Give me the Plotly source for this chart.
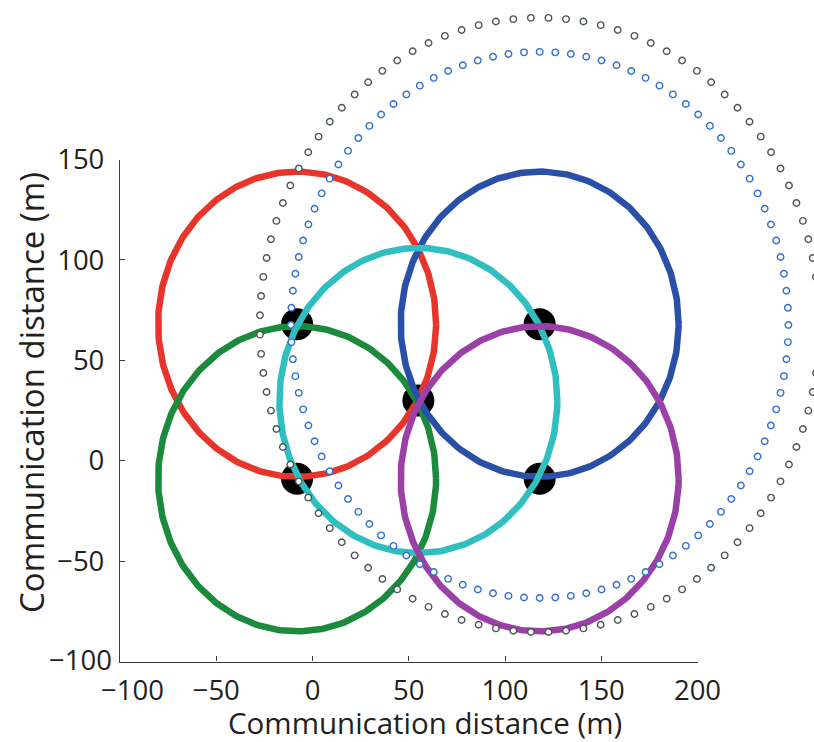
import numpy as np
import plotly.graph_objects as go

# Anchor nodes (m)
anchor_x = [-8, -8, 55, 118, 118]
anchor_y = [68, -9, 30, 68, -9]

# Communication ranges around each anchor (drawn in this order)
range_names = ["Anchor A", "Anchor B", "Anchor D", "Anchor C", "Anchor E"]
range_cx = [-8, -8, 118, 55, 118]
range_cy = [68, -9, 68, 30, -9]
range_r = [76, 76, 76, 76, 76]
range_colors = ["#e8352b", "#1b8a3c", "#2a4fa6", "#2fbfc0", "#9a40a6"]

# Extended ranges around anchor D
ring_names = ["Outer range", "Inner range"]
ring_cx = [118, 118]
ring_cy = [67.6, 67.6]
ring_r = [153, 136]
ring_colors = ["#4a5656", "#2f6fd0"]
ring_points = [100, 100]
ring_phase = [0.5, 0.0]

x_ticks = [-100, -50, 0, 50, 100, 150, 200]
y_ticks = [-100, -50, 0, 50, 100, 150]
x_range = [-100, 200]
y_range = [-100, 150]

X_SCALE = 0.95  # horizontal stretch of the drawn ranges
FONT = "Open Sans"
TEXT_COLOR = "#231f20"
TICK_SIZE = 27.5


def fmt(v):
    return f"\u2212{abs(v)}" if v < 0 else str(v)


W, H = 814, 742
# plot box in pixels
PX0, PX1 = 120.0, 697.5
PY0, PY1 = 159.5, 661.5   # top, bottom

# full-page overlay axes carrying the same data scale as the main axes
sx = (PX1 - PX0) / (x_range[1] - x_range[0])
sy = (PY1 - PY0) / (y_range[1] - y_range[0])
x_full = [x_range[0] - PX0 / sx, x_range[1] + (W - PX1) / sx]
y_full = [y_range[0] - (H - PY1) / sy, y_range[1] + PY0 / sy]

fig = go.Figure()

fig.add_trace(go.Scatter(
    x=anchor_x, y=anchor_y, mode="markers",
    marker=dict(color="black", size=32, line=dict(width=0)),
    showlegend=False, hoverinfo="skip"))

t = np.linspace(0, 2 * np.pi, 361)
for name, cx, cy, r, col in zip(range_names, range_cx, range_cy, range_r, range_colors):
    fig.add_trace(go.Scatter(
        x=cx + X_SCALE * r * np.cos(t), y=cy + r * np.sin(t),
        mode="lines", line=dict(color=col, width=6.5),
        name=name, showlegend=False, hoverinfo="skip"))

for name, cx, cy, r, col, n, ph in zip(ring_names, ring_cx, ring_cy, ring_r,
                                       ring_colors, ring_points, ring_phase):
    a = (np.arange(n) + ph) * 2 * np.pi / n
    fig.add_trace(go.Scatter(
        x=cx + X_SCALE * r * np.cos(a), y=cy + r * np.sin(a),
        xaxis="x2", yaxis="y2",
        mode="markers",
        marker=dict(symbol="circle", size=6.5, color="white",
                    line=dict(color=col, width=1.4)),
        name=name, showlegend=False, hoverinfo="skip"))

axis_common = dict(
    showgrid=False, zeroline=False, showline=True, linecolor="#3a3a3a",
    linewidth=1.3, ticks="inside", ticklen=5, tickwidth=1, tickcolor="#3a3a3a",
    tickfont=dict(family=FONT, size=TICK_SIZE, color=TEXT_COLOR),
    mirror=False, automargin=False,
)

# the corner labels (-100 on both axes) are set as separate text, nudged
# toward the plot so that they do not collide
x_text = ["" if v == x_range[0] else fmt(v) for v in x_ticks]
y_text = ["" if v == y_range[0] else fmt(v) for v in y_ticks]

fig.update_layout(
    xaxis=dict(range=x_range, tickvals=x_ticks, ticktext=x_text, ticklabelstandoff=4,
               domain=[PX0 / W, PX1 / W], anchor="y", **axis_common),
    yaxis=dict(range=y_range, tickvals=y_ticks, ticktext=y_text, ticklabelstandoff=9,
               domain=[1 - PY1 / H, 1 - PY0 / H], anchor="x", **axis_common),
    xaxis2=dict(range=x_full, domain=[0, 1], anchor="y2", visible=False,
                automargin=False),
    yaxis2=dict(range=y_full, domain=[0, 1], anchor="x2", visible=False,
                automargin=False),
)

fig.add_annotation(text=fmt(x_range[0]), xref="x", yref="paper",
                   x=x_range[0], y=1 - 689 / H, xshift=12,
                   xanchor="center", yanchor="middle", showarrow=False,
                   font=dict(family=FONT, size=TICK_SIZE, color=TEXT_COLOR))
fig.add_annotation(text=fmt(y_range[0]), xref="paper", yref="y",
                   x=114 / W, y=y_range[0], yshift=2,
                   xanchor="right", yanchor="middle", showarrow=False,
                   font=dict(family=FONT, size=TICK_SIZE, color=TEXT_COLOR))

fig.add_annotation(text="Communication distance (m)", xref="paper", yref="paper",
                   x=424.5 / W, y=1 - 722.5 / H, xanchor="center", yanchor="middle",
                   showarrow=False,
                   font=dict(family=FONT, size=29.5, color=TEXT_COLOR))
fig.add_annotation(text="Communication distance (m)", xref="paper", yref="paper",
                   x=31 / W, y=1 - 393 / H, xanchor="center", yanchor="middle",
                   showarrow=False, textangle=-90,
                   font=dict(family=FONT, size=33, color=TEXT_COLOR))

fig.update_layout(
    width=W, height=H,
    margin=dict(l=0, r=0, t=0, b=0, autoexpand=False),
    paper_bgcolor="white", plot_bgcolor="rgba(0,0,0,0)",
    showlegend=False,
)

fig.write_html("out.html")
